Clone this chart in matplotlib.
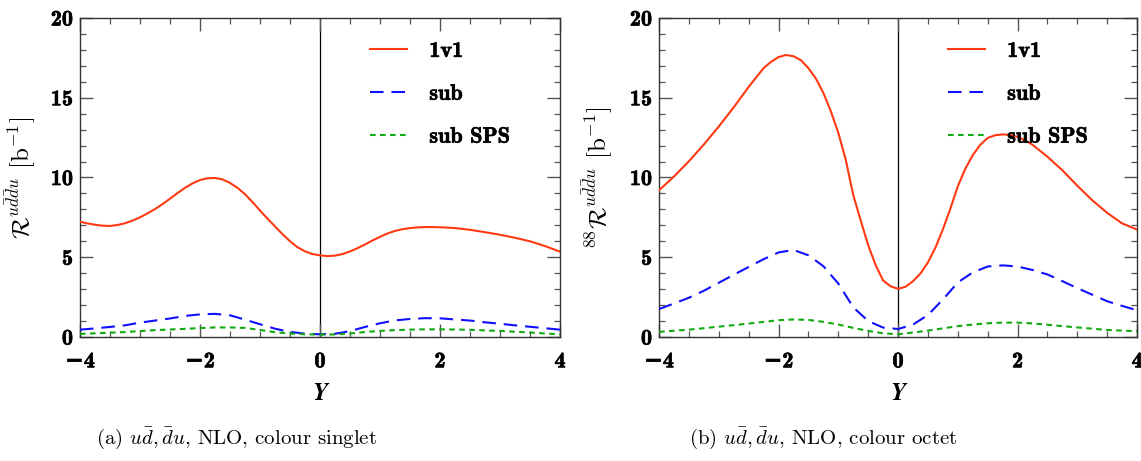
import numpy as np
import matplotlib
matplotlib.use("Agg")
import matplotlib.pyplot as plt
import matplotlib.patheffects as pe
from matplotlib.ticker import MultipleLocator

plt.rcParams['font.family'] = 'serif'
plt.rcParams['font.serif'] = ['cmr10', 'DejaVu Serif']
plt.rcParams['mathtext.fontset'] = 'cm'
plt.rcParams['axes.unicode_minus'] = False

# rapidity grid (step 0.25)
y_grid = np.arange(-4.0, 4.01, 0.25)

# (a) colour singlet, 1v1 on a finer grid
singlet_1v1_y = list(np.arange(-4.0, 2.01, 0.125)) + [2.25, 2.5, 2.75, 3.0, 3.25, 3.5, 3.75, 4.0]
singlet_1v1 = [7.23, 7.12, 7.04, 6.98, 6.96, 7.02, 7.13, 7.30, 7.50, 7.75, 8.02,
               8.33, 8.67, 9.02, 9.35, 9.63, 9.84, 9.95, 9.97, 9.88, 9.66, 9.35,
               8.95, 8.46, 7.93, 7.42, 6.93, 6.45, 6.00, 5.63, 5.37, 5.20, 5.12,
               5.07, 5.10, 5.20, 5.36, 5.57, 5.80, 6.05, 6.28, 6.49, 6.65, 6.76,
               6.83, 6.87, 6.89, 6.89, 6.88,
               6.83, 6.72, 6.57, 6.41, 6.22, 6.00, 5.70, 5.35]
singlet_sub = [0.46, 0.54, 0.63, 0.73, 0.90, 1.03, 1.16, 1.32, 1.42, 1.45, 1.36,
               1.09, 0.80, 0.52, 0.32, 0.21, 0.17, 0.20, 0.37, 0.63, 0.86, 1.04,
               1.13, 1.18, 1.17, 1.10, 1.03, 0.92, 0.83, 0.73, 0.64, 0.55, 0.46]
singlet_sps = [0.19, 0.23, 0.27, 0.31, 0.37, 0.43, 0.47, 0.51, 0.56, 0.60, 0.60,
               0.57, 0.44, 0.30, 0.22, 0.17, 0.15, 0.16, 0.22, 0.31, 0.38, 0.43,
               0.46, 0.48, 0.48, 0.47, 0.45, 0.41, 0.38, 0.33, 0.28, 0.22, 0.17]

# (b) colour octet, 1v1 has a finer grid around peaks and dip
octet_1v1_y = [-4.0, -3.75, -3.5, -3.25, -3.0, -2.75, -2.5, -2.25, -2.125, -2.0,
               -1.875, -1.75, -1.625, -1.5, -1.375, -1.25, -1.125, -1.0, -0.875,
               -0.75, -0.625, -0.5, -0.375, -0.25, -0.125, 0.0, 0.125, 0.25,
               0.375, 0.5, 0.625, 0.75, 0.875, 1.0, 1.125, 1.25, 1.375, 1.5,
               1.625, 1.75, 1.875, 2.0, 2.125, 2.25, 2.5, 2.75, 3.0, 3.25, 3.5,
               3.75, 4.0]
octet_1v1 = [9.20, 10.06, 11.02, 12.07, 13.20, 14.40, 15.68, 16.86, 17.25, 17.55,
             17.68, 17.60, 17.35, 16.85, 16.20, 15.30, 14.15, 12.80, 11.10,
             8.90, 7.30, 5.75, 4.50, 3.54, 3.18, 3.02, 3.15, 3.50,
             3.98, 4.68, 5.60, 6.75, 8.05, 9.45, 10.55, 11.40, 12.05, 12.48,
             12.65, 12.70, 12.67, 12.55, 12.33, 12.05, 11.30, 10.45, 9.48, 8.57, 7.78,
             7.12, 6.73]
octet_sub = [1.75, 2.10, 2.46, 2.90, 3.40, 3.90, 4.39, 4.88, 5.30, 5.46, 5.12,
             4.44, 3.35, 1.86, 1.00, 0.59, 0.50, 0.78, 1.38, 2.35, 3.42, 4.05,
             4.42, 4.49, 4.42, 4.20, 3.92, 3.50, 3.06, 2.65, 2.24, 1.95, 1.67]
octet_sps = [0.32, 0.39, 0.46, 0.55, 0.65, 0.74, 0.84, 0.95, 1.05, 1.10, 1.07,
             0.95, 0.78, 0.57, 0.38, 0.23, 0.17, 0.28, 0.40, 0.54, 0.68, 0.78,
             0.86, 0.90, 0.90, 0.85, 0.77, 0.68, 0.60, 0.52, 0.44, 0.40, 0.36]

x_ticks = [-4, -2, 0, 2, 4]
y_ticks = [0, 5, 10, 15, 20]

red = '#ff3a12'
blue = '#1010ff'
green = '#11aa11'

bold_fx = [pe.withStroke(linewidth=0.5, foreground='black')]
bold_font = ['cmb10', 'DejaVu Sans']

fig = plt.figure(figsize=(11.41, 4.61), dpi=100)
ax1 = fig.add_axes([0.0701, 0.269, 0.4207, 0.692])
ax2 = fig.add_axes([0.5776, 0.269, 0.419, 0.692])

panels = [
    (ax1, singlet_1v1_y, singlet_1v1, singlet_sub, singlet_sps,
     r'$\mathcal{R}^{u\bar{d}\bar{d}u}$ [b$^{-1}$]', -0.088),
    (ax2, octet_1v1_y, octet_1v1, octet_sub, octet_sps,
     r'${}^{88}\mathcal{R}^{u\bar{d}\bar{d}u}$ [b$^{-1}$]', -0.093),
]

for ax, x1, v1, vsub, vsps, ylab, ylx in panels:
    ax.axvline(0, color='black', lw=0.9, zorder=1)
    ax.plot(x1, v1, color=red, lw=1.5, label='1v1', zorder=3)
    ax.plot(y_grid, vsub, color=blue, lw=1.5, ls=(0, (6.5, 3.8)), label='sub', zorder=3)
    ax.plot(y_grid, vsps, color=green, lw=1.5, ls=(0, (2.7, 2.1)), label='sub SPS', zorder=3)

    ax.set_xlim(-4, 4)
    ax.set_ylim(0, 20)
    ax.set_xticks(x_ticks)
    ax.set_xticklabels([str(t).replace('-', '\u2212') for t in x_ticks],
                       family=bold_font, weight='bold', fontsize=16, path_effects=bold_fx)
    ax.set_yticks(y_ticks)
    ax.set_yticklabels([str(t) for t in y_ticks],
                       family=bold_font, weight='bold', fontsize=16, path_effects=bold_fx)
    ax.xaxis.set_minor_locator(MultipleLocator(0.5))
    ax.yaxis.set_minor_locator(MultipleLocator(1))
    ax.tick_params(which='both', direction='in', top=True, right=True, color='#555555')
    ax.tick_params(which='major', length=9.5, width=1.0)
    ax.tick_params(which='minor', length=4.3, width=0.9)
    ax.tick_params(axis='x', which='major', pad=11)
    ax.tick_params(axis='y', which='major', pad=5)
    for sp in ax.spines.values():
        sp.set_color('#333333')
        sp.set_linewidth(1.0)

    ax.set_xlabel('Y', family='STIXGeneral', weight='bold', style='italic', fontsize=18)
    ax.xaxis.set_label_coords(0.5, -0.14)
    ax.set_ylabel(ylab, fontsize=18)
    ax.yaxis.set_label_coords(ylx, 0.5)

    leg = ax.legend(loc='upper left', bbox_to_anchor=(0.605, 0.927), frameon=False,
                    prop={'family': 'cmb10', 'size': 16}, handlelength=1.65,
                    handletextpad=1.0, labelspacing=1.05, borderpad=0, borderaxespad=0)
    for t in leg.get_texts():
        t.set_path_effects([pe.withStroke(linewidth=0.5, foreground='black')])

fig.text(0.207, 0.05, r'(a) $u\bar{d}, \bar{d}u$, NLO, colour singlet', ha='center',
         va='center', fontsize=15)
fig.text(0.721, 0.05, r'(b) $u\bar{d}, \bar{d}u$, NLO, colour octet', ha='center',
         va='center', fontsize=15)

fig.savefig('out.png', dpi=100)
